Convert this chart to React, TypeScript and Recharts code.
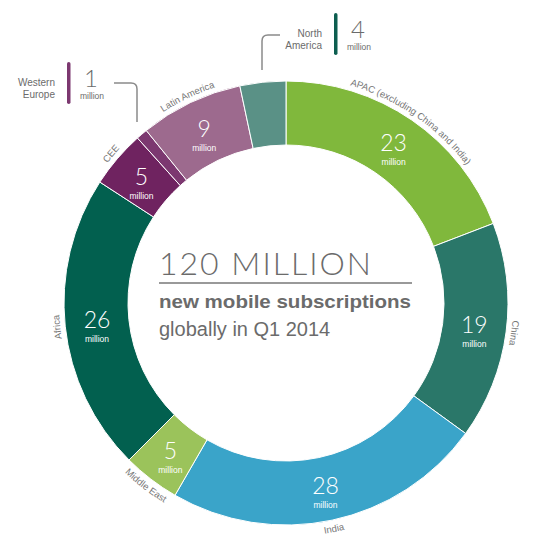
import React from "react";
import { PieChart, Pie, Cell } from "recharts";

// clockwise from 12 o'clock, millions of new subscriptions, Q1 2014
const regions = [
  "APAC (excluding China and India)",
  "China",
  "India",
  "Middle East",
  "Africa",
  "CEE",
  "Western Europe",
  "Latin America",
  "North America",
];
const subscriptions = [23, 19, 28, 5, 26, 5, 1, 9, 4];
const sliceColors = [
  "#80b83c",
  "#2a7769",
  "#3aa4c9",
  "#9bc35b",
  "#02604f",
  "#6f2360",
  "#7c3870",
  "#9d6a8e",
  "#5a9186",
];
// small slices get a callout above the ring instead of an inside label
const calloutRegions = ["Western Europe", "North America"];
const subtitleLines = ["new mobile subscriptions", "globally in Q1 2014"];
const unitLabel = "million";

const data = regions.map((name, i) => ({ name, value: subscriptions[i] }));
const total = subscriptions.reduce((a, b) => a + b, 0);

const W = 536;
const H = 550;
const CX = 281;
const CY = 298;
const INNER = 158;
const OUTER = 222;
const RADIAN = Math.PI / 180;
const GREY = "#6b6b6b";
const numFont = "Lato, 'Open Sans', sans-serif";
const textFont = "'Liberation Sans', Arial, sans-serif";

const pt = (cx: number, cy: number, r: number, a: number) => ({
  x: cx + r * Math.cos(a * RADIAN),
  y: cy - r * Math.sin(a * RADIAN),
});

// eslint-disable-next-line @typescript-eslint/no-explicit-any
const renderLabel = (props: any) => {
  const { cx, cy, midAngle, innerRadius, outerRadius, index, name, value } = props;
  if (calloutRegions.includes(name)) return null;
  const mid = pt(cx, cy, (innerRadius + outerRadius) / 2, midAngle);
  const bottom = Math.sin(midAngle * RADIAN) < -0.6;
  const span = 60;
  const r = bottom ? outerRadius + 12 : outerRadius + 5;
  const a1 = bottom ? midAngle - span : midAngle + span;
  const a2 = bottom ? midAngle + span : midAngle - span;
  const p1 = pt(cx, cy, r, a1);
  const p2 = pt(cx, cy, r, a2);
  const d = `M${p1.x},${p1.y} A${r},${r} 0 0 ${bottom ? 0 : 1} ${p2.x},${p2.y}`;
  const id = `arc-label-${index}`;
  return (
    <g>
      <path id={id} d={d} fill="none" stroke="none" />
      <text fontSize={9.5} fill="#777" fontFamily={textFont}>
        <textPath href={`#${id}`} startOffset="50%" textAnchor="middle">
          {name}
        </textPath>
      </text>
      <text
        x={mid.x}
        y={mid.y + 5}
        textAnchor="middle"
        fill="#fff"
        fontSize={23}
        fontWeight={300}
        fontFamily={numFont}
      >
        {value}
      </text>
      <text
        x={mid.x}
        y={mid.y + 19}
        textAnchor="middle"
        fill="#fff"
        fontSize={8.5}
        fontFamily={textFont}
      >
        {unitLabel}
      </text>
    </g>
  );
};

function Callout({
  name,
  x,
  y,
  color,
  line,
}: {
  name: string;
  x: number;
  y: number;
  color: string;
  line: string;
}) {
  const value = subscriptions[regions.indexOf(name)];
  const words = name.split(" ");
  return (
    <g>
      {words.map((w, i) => (
        <text
          key={w}
          x={x}
          y={y + 4 + i * 12}
          textAnchor="end"
          fontSize={10}
          fill={GREY}
          fontFamily={textFont}
        >
          {w}
        </text>
      ))}
      <rect x={x + 12} y={y - 20} width={3.5} height={42} rx={1.75} fill={color} />
      <text
        x={x + 36}
        y={y + 5}
        textAnchor="middle"
        fontSize={24}
        fontWeight={300}
        fill={GREY}
        fontFamily={numFont}
      >
        {value}
      </text>
      <text
        x={x + 37}
        y={y + 17}
        textAnchor="middle"
        fontSize={8.5}
        fill={GREY}
        fontFamily={textFont}
      >
        {unitLabel}
      </text>
      <path d={line} fill="none" stroke="#8a8a8a" strokeWidth={1.5} />
    </g>
  );
}

export default function App() {
  return (
    <div style={{ position: "absolute", left: 0, top: 0, width: W, height: H, background: "#fff" }}>
      <PieChart width={W} height={H}>
        <Pie
          data={data}
          dataKey="value"
          nameKey="name"
          cx={CX}
          cy={CY}
          innerRadius={INNER}
          outerRadius={OUTER}
          startAngle={90}
          endAngle={-270}
          stroke="#fff"
          strokeWidth={1}
          label={renderLabel}
          labelLine={false}
          isAnimationActive={false}
        >
          {data.map((d, i) => (
            <Cell key={d.name} fill={sliceColors[i]} />
          ))}
        </Pie>
      </PieChart>
      <svg
        width={W}
        height={H}
        style={{ position: "absolute", left: 0, top: 0, pointerEvents: "none" }}
      >
        <text
          x={159}
          y={275}
          fontSize={32}
          fontWeight={300}
          fill={GREY}
          fontFamily={numFont}
          textLength={212}
          lengthAdjust="spacing"
        >
          {`${total} MILLION`}
        </text>
        <line x1={159} x2={412} y1={283} y2={283} stroke="#777" strokeWidth={1.5} />
        <text
          x={159}
          y={308}
          fontSize={19}
          fontWeight={700}
          fill={GREY}
          fontFamily={textFont}
          textLength={252}
          lengthAdjust="spacingAndGlyphs"
        >
          {subtitleLines[0]}
        </text>
        <text x={159} y={336} fontSize={20} fill={GREY} fontFamily={textFont}>
          {subtitleLines[1]}
        </text>
        <Callout
          name="Western Europe"
          x={55}
          y={82}
          color={sliceColors[6]}
          line="M114,83 H131 Q137,83 137,89 V122"
        />
        <Callout
          name="North America"
          x={322}
          y={33}
          color="#0d5e50"
          line="M280,35 H268 Q262,35 262,41 V70"
        />
      </svg>
    </div>
  );
}
